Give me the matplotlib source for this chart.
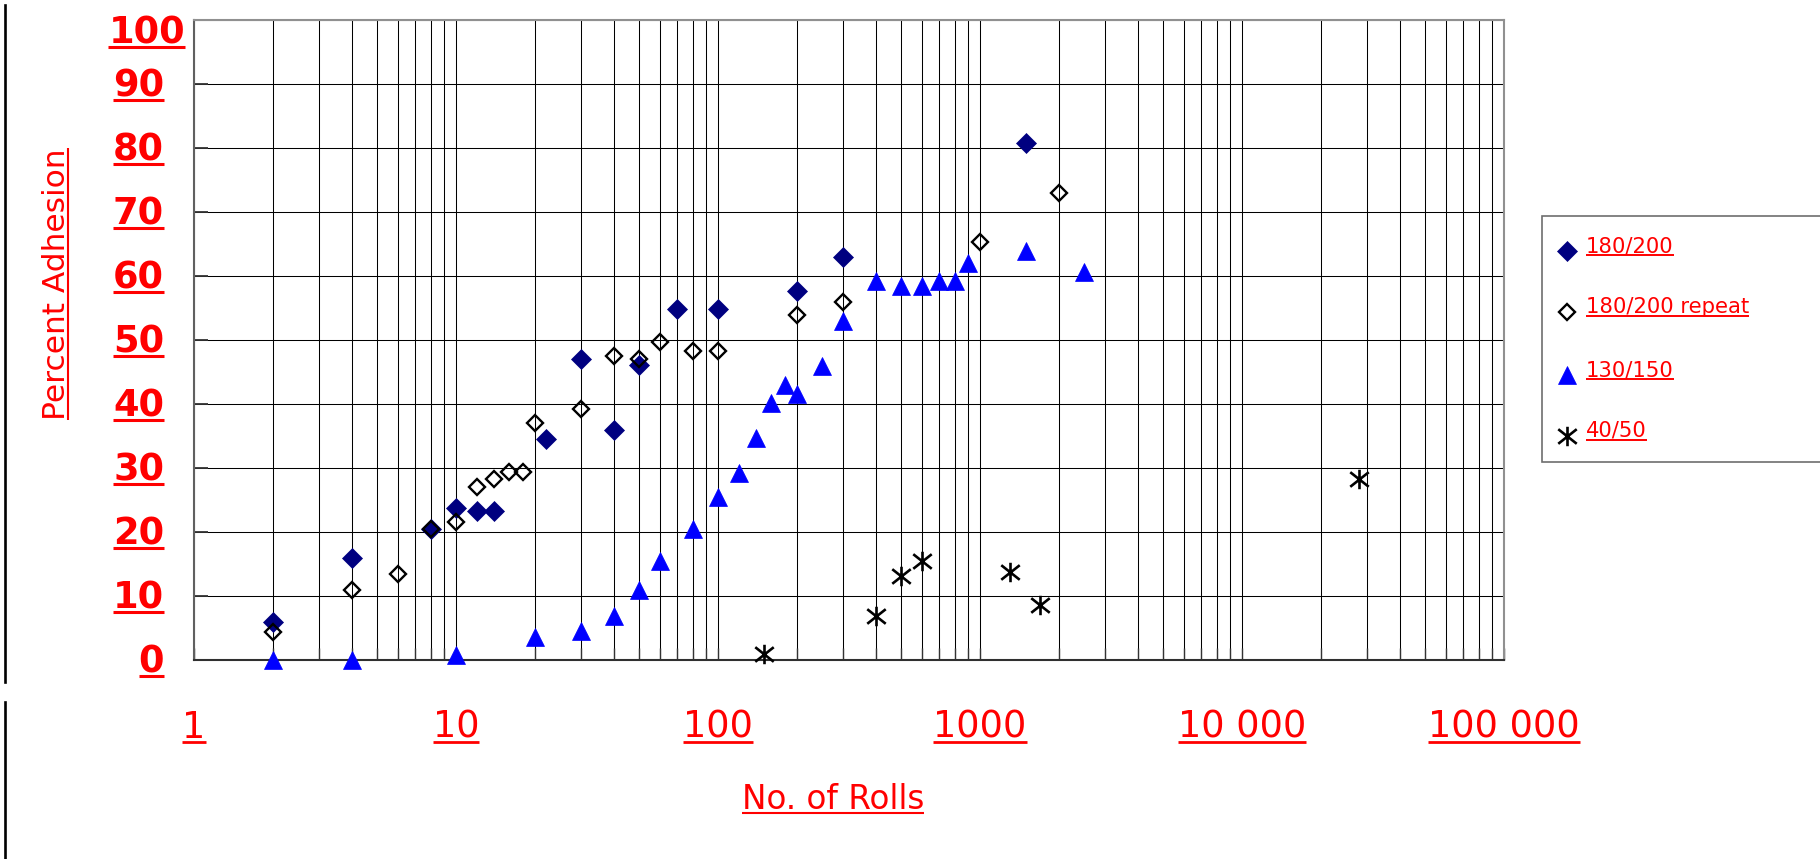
import matplotlib
matplotlib.use("Agg")
import matplotlib.pyplot as plt
from matplotlib.lines import Line2D
from matplotlib.patches import Rectangle
from matplotlib.path import Path
from matplotlib.ticker import LogLocator, NullFormatter

# adhesion test results: number of rolls vs percent adhesion
rolls_180 = [2, 4, 8, 10, 12, 14, 22, 30, 40, 50, 70, 100, 200, 300, 1500]
adh_180 = [6, 16, 20.5, 23.7, 23.3, 23.3, 34.6, 47, 36, 46.1, 54.8, 54.8, 57.6, 63, 80.8]

rolls_180r = [2, 4, 6, 8, 10, 12, 14, 16, 18, 20, 30, 40, 50, 60, 80, 100, 200, 300, 1000, 2000]
adh_180r = [4.4, 10.9, 13.5, 20.4, 21.5, 27, 28.3, 29.3, 29.3, 37, 39.2, 47.5, 47, 49.7, 48.3,
            48.3, 53.9, 56, 65.3, 73]

rolls_130 = [2, 4, 10, 20, 30, 40, 50, 60, 80, 100, 120, 140, 160, 180, 200, 250, 300, 400,
             500, 600, 700, 800, 900, 1500, 2500]
adh_130 = [0, 0, 0.8, 3.6, 4.5, 6.8, 10.9, 15.5, 20.5, 25.5, 29.2, 34.7, 40.2, 42.9, 41.5, 46,
           52.9, 59.2, 58.4, 58.4, 59.2, 59.2, 62, 63.9, 60.6]

rolls_40 = [150, 400, 500, 600, 1300, 1700, 28000]
adh_40 = [1, 6.9, 13.1, 15.5, 13.7, 8.6, 28.3]

series_names = ["180/200", "180/200 repeat", "130/150", "40/50"]

x_ticks = [1, 10, 100, 1000, 10000, 100000]
x_labels = ["1", "10", "100", "1000", "10 000", "100 000"]
y_ticks = [0, 10, 20, 30, 40, 50, 60, 70, 80, 90, 100]
y_labels = [str(v) for v in y_ticks]

RED = "#ff0000"
W, H = 1820, 859

fig = plt.figure(figsize=(W / 100, H / 100), dpi=100)
ax = fig.add_axes([194 / W, 1 - 660 / H, 1310 / W, 640 / H])


def fpos(x, y):
    # pixel position from the top-left corner -> figure fraction
    return x / W, 1 - y / H


# asterisk marker: vertical bar plus a cross
star = Path([(0, -1), (0, 1), (-0.95, -0.75), (0.95, 0.75), (-0.95, 0.75), (0.95, -0.75)],
            [Path.MOVETO, Path.LINETO] * 3)

styles = [
    dict(marker="D", ms=9.8, mfc="#000080", mec="#000080", mew=0.5),
    dict(marker="D", ms=8.2, mfc="none", mec="black", mew=1.7),
    dict(marker="^", ms=13.5, mfc="#0000ff", mec="#0000ff", mew=0.5),
    dict(marker=star, ms=14, mfc="none", mec="black", mew=1.9),
]
data = [(rolls_180, adh_180), (rolls_180r, adh_180r), (rolls_130, adh_130), (rolls_40, adh_40)]

for (xs, ys), st in zip(data, styles):
    ax.plot(xs, ys, linestyle="none", clip_on=False, zorder=3, **st)

ax.set_xscale("log")
ax.set_xlim(1, 100000)
ax.set_ylim(0, 100)
ax.set_yticks(y_ticks)
ax.xaxis.set_major_locator(LogLocator(base=10, numticks=10))
ax.xaxis.set_minor_locator(LogLocator(base=10, subs=range(2, 10), numticks=60))
ax.xaxis.set_minor_formatter(NullFormatter())
ax.grid(True, axis="x", which="both", color="black", lw=0.75)
ax.grid(True, axis="y", which="major", color="black", lw=0.75)
ax.set_axisbelow(True)
ax.tick_params(which="both", labelbottom=False, labelleft=False)
ax.tick_params(axis="y", which="major", direction="in", length=10, width=1.3, color="#333333")
ax.tick_params(axis="x", which="both", direction="in", length=8.5, width=1, color="#333333")

ax.spines["left"].set_color("#606060")
ax.spines["bottom"].set_color("#303030")
ax.spines["top"].set_color("#909090")
ax.spines["right"].set_color("#909090")
for s in ax.spines.values():
    s.set_linewidth(1.5)

renderer = fig.canvas.get_renderer()


def underline(t, base, gap, lw, vertical=False):
    # red rule just past the baseline, as long as the text
    bb = t.get_window_extent(renderer)
    if vertical:
        x = (base + gap) / W
        ln = Line2D([x, x], [bb.y0 / H, bb.y1 / H], color=RED, lw=lw, solid_capstyle="butt")
    else:
        y = 1 - (base + gap) / H
        ln = Line2D([bb.x0 / W, bb.x1 / W], [y, y], color=RED, lw=lw, solid_capstyle="butt")
    fig.add_artist(ln)


# y tick labels, bold and underlined
for v, lab in zip(y_ticks, y_labels):
    ypix = H - ax.transData.transform((1, v))[1]
    xr, base = 164, ypix + 12.5
    if v == y_ticks[-1]:
        xr, base = 185, 43
    t = fig.text(*fpos(xr, base), lab, ha="right", va="baseline", color=RED,
                 fontsize=26.5, fontweight="bold")
    underline(t, base, 3.8, 2.2)

# x tick labels below the plot
for v, lab in zip(x_ticks, x_labels):
    xpix = ax.transData.transform((v, 0))[0]
    t = fig.text(*fpos(xpix, 738), lab, ha="center", va="baseline", color=RED, fontsize=26.5)
    underline(t, 738, 4.3, 2.0)

t = fig.text(*fpos(833, 809), "No. of Rolls", ha="center", va="baseline", color=RED, fontsize=23.5)
underline(t, 809, 3.7, 1.5)

t = fig.text(*fpos(65, 284), "Percent Adhesion", ha="center", va="baseline", color=RED,
             fontsize=22.5, rotation=90, rotation_mode="anchor")
underline(t, 65, 2.8, 1.5, vertical=True)

# left margin rules
fig.add_artist(Line2D([5 / W, 5 / W], [1 - 5 / H, 1 - 682 / H], color="black", lw=1.9))
fig.add_artist(Line2D([5 / W, 5 / W], [1 - 702 / H, 0], color="black", lw=1.9))

# legend box
fig.add_artist(Rectangle(fpos(1542, 462), 290 / W, 246 / H, transform=fig.transFigure,
                         facecolor="white", edgecolor="#6e6e6e", lw=1.2))
legend_base = [252, 313, 376, 437]
for name, st, base in zip(series_names, styles, legend_base):
    mx, my = fpos(1567, base - 1)
    fig.add_artist(Line2D([mx], [my], linestyle="none", **st))
    t = fig.text(*fpos(1586, base), name, ha="left", va="baseline", color=RED, fontsize=15.2)
    underline(t, base, 2.6, 1.4)

fig.savefig("out.png", dpi=100)
